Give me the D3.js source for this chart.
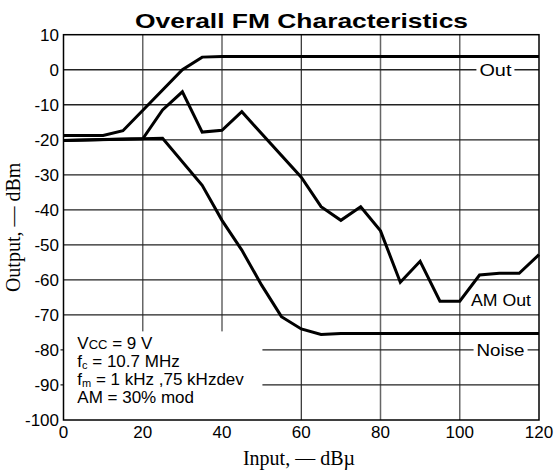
<!DOCTYPE html>
<html>
<head>
<meta charset="utf-8">
<script src="https://cdn.jsdelivr.net/npm/d3@7"></script>
<style>
  html, body { margin: 0; padding: 0; background: #fff; }
  svg { display: block; }
  .tick-label { font-family: "Liberation Sans", Arial, sans-serif; font-size: 17px; fill: #000; }
  .curve-label { font-family: "Liberation Sans", Arial, sans-serif; font-size: 17px; fill: #000; }
  .axis-title { font-family: "Liberation Serif", "Times New Roman", serif; font-size: 20px; fill: #000; }
  .note { font-family: "Liberation Sans", Arial, sans-serif; font-size: 17px; fill: #000; }
</style>
</head>
<body>
<div id="chart"></div>
<script>
// Daten: Eingang in dBµ, Ausgang in dBm
const outX = [0, 10, 15, 30, 35, 40, 120];
const outY = [-18.8, -18.8, -17.4, 0, 3.6, 3.8, 3.8];

const amX = [0, 20, 25, 30, 35, 40, 45, 60, 65, 70, 75, 80, 85, 90, 95, 100, 105, 110, 115, 120];
const amY = [-20.2, -19.7, -11.5, -6.3, -17.8, -17.3, -12, -30.7, -39.1, -43, -39.1, -46, -60.7, -54.7, -66.1, -66.1, -58.6, -58.1, -58.1, -52.8];

const noiseX = [0, 10, 20, 25, 35, 40, 45, 50, 55, 60, 65, 70, 120];
const noiseY = [-20.2, -19.9, -19.7, -19.6, -33, -43, -51.5, -61.5, -70.5, -74, -75.6, -75.3, -75.3];

const xTicks = [0, 20, 40, 60, 80, 100, 120];
const yTicks = [10, 0, -10, -20, -30, -40, -50, -60, -70, -80, -90, -100];

const noteLines = [
  [["V", ""], ["CC", "small"], [" = 9 V", ""]],
  [["f", ""], ["c", "sub"], [" = 10.7 MHz", ""]],
  [["f", ""], ["m", "sub"], [" = 1 kHz ,75 kHzdev", ""]],
  [["AM = 30% mod", ""]]
];

const W = 555, H = 473;
const x = d3.scaleLinear().domain([0, 120]).range([63.5, 539]);
const y = d3.scaleLinear().domain([-100, 10]).range([420, 34.7]);

const svg = d3.select("#chart").append("svg").attr("width", W).attr("height", H);

// Titel
svg.append("text")
  .attr("x", 301.5).attr("y", 28)
  .attr("text-anchor", "middle")
  .attr("textLength", 333).attr("lengthAdjust", "spacingAndGlyphs")
  .style("font-family", "'Liberation Sans', Arial, sans-serif")
  .style("font-size", "21px").style("font-weight", "bold")
  .text("Overall FM Characteristics");

// Gitter
const grid = svg.append("g");
xTicks.slice(1, -1).forEach(v => {
  grid.append("line")
    .attr("x1", x(v)).attr("x2", x(v))
    .attr("y1", y(10)).attr("y2", y(-100))
    .attr("stroke", v === 60 ? "#000" : "#666")
    .attr("stroke-width", v === 60 ? 1 : 1.5);
});
yTicks.slice(1, -1).forEach(v => {
  grid.append("line")
    .attr("x1", x(0) - (v <= -80 ? 3 : 0)).attr("x2", x(120))
    .attr("y1", y(v)).attr("y2", y(v))
    .attr("stroke", "#222").attr("stroke-width", 1.3);
});

// Weisse Fläche hinter dem Hinweistext
svg.append("rect")
  .attr("x", x(0)).attr("y", y(-74.7))
  .attr("width", x(50.2) - x(0)).attr("height", y(-100) - y(-74.7))
  .attr("fill", "#fff");

// Rahmen
svg.append("rect")
  .attr("x", x(0)).attr("y", y(10))
  .attr("width", x(120) - x(0)).attr("height", y(-100) - y(10))
  .attr("fill", "none").attr("stroke", "#000").attr("stroke-width", 1.5);

// Achsenbeschriftung
yTicks.forEach(v => {
  svg.append("text").attr("class", "tick-label")
    .attr("x", x(0) - 4.5).attr("y", y(v) + 6)
    .attr("text-anchor", "end")
    .text(v);
});
xTicks.forEach(v => {
  svg.append("text").attr("class", "tick-label")
    .attr("x", x(v)).attr("y", 438)
    .attr("text-anchor", "middle")
    .text(v);
});

svg.append("text").attr("class", "axis-title")
  .attr("transform", `translate(20, ${(y(10) + y(-100)) / 2}) rotate(-90)`)
  .attr("text-anchor", "middle")
  .text("Output, — dBm");
svg.append("text").attr("class", "axis-title")
  .attr("x", 299).attr("y", 465)
  .attr("text-anchor", "middle")
  .text("Input, — dBµ");

// Kurven
const line = d3.line().x(d => x(d[0])).y(d => y(d[1]));
[[outX, outY], [amX, amY], [noiseX, noiseY]].forEach(([xs, ys]) => {
  svg.append("path")
    .datum(xs.map((v, i) => [v, ys[i]]))
    .attr("d", line)
    .attr("fill", "none").attr("stroke", "#000")
    .attr("stroke-width", 3).attr("stroke-linejoin", "miter");
});

// Kurvennamen, auf Gitterlinien mit weissem Hintergrund
function label(txt, cx, cy, len, onLine) {
  if (onLine) {
    svg.append("rect")
      .attr("x", x(cx) - len / 2 - 3).attr("y", y(cy) - 2)
      .attr("width", len + 6).attr("height", 4)
      .attr("fill", "#fff");
  }
  svg.append("text").attr("class", "curve-label")
    .attr("x", x(cx)).attr("y", y(cy) + (onLine ? 6 : 0))
    .attr("text-anchor", "middle")
    .attr("textLength", len).attr("lengthAdjust", "spacingAndGlyphs")
    .text(txt);
}
label("Out", 109, 0, 32, true);
label("Noise", 110.3, -80, 48, true);
label("AM Out", 110.4, -67.4, 60, false);

// Hinweistext
noteLines.forEach((parts, i) => {
  const t = svg.append("text").attr("class", "note")
    .attr("x", 77.3).attr("y", 349.3 + i * 17.9);
  parts.forEach(([s, kind], j) => {
    const ts = t.append("tspan").text(s);
    if (kind === "small") ts.style("font-size", "13px");
    if (kind === "sub") ts.style("font-size", "11px").attr("dy", 2);
    if (j > 0 && parts[j - 1][1] === "sub") ts.attr("dy", -2);
  });
});
</script>
</body>
</html>
